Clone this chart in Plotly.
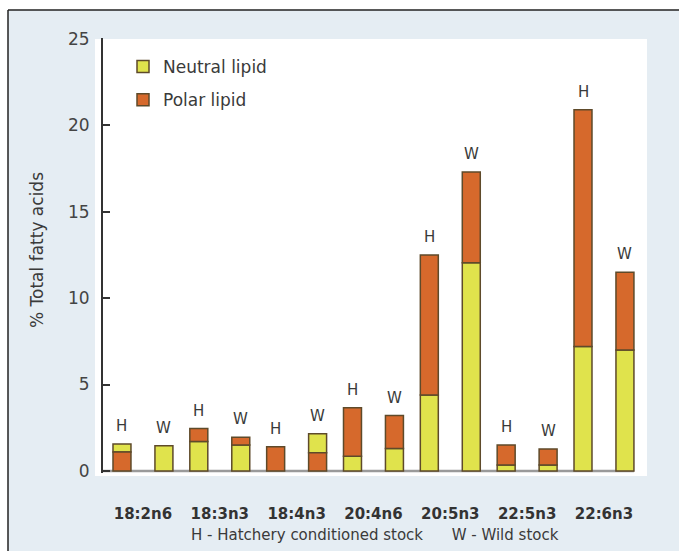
import plotly.graph_objects as go

# ---- data ----
categories = ["18:2n6", "18:3n3", "18:4n3", "20:4n6", "20:5n3", "22:5n3", "22:6n3"]
neutral_H = [0.46, 1.7, 0.0, 0.85, 4.4, 0.35, 7.2]
polar_H = [1.1, 0.75, 1.4, 2.8, 8.1, 1.15, 13.7]
neutral_W = [1.45, 1.5, 1.1, 1.3, 12.05, 0.35, 7.0]
polar_W = [0.0, 0.45, 1.05, 1.9, 5.25, 0.92, 4.5]
# True where the polar segment sits at the bottom of the stack
polar_bottom_H = [True, False, True, False, False, False, False]
polar_bottom_W = [False, False, True, False, False, False, False]
stock_labels = ["H", "W"]
y_ticks = [0, 5, 10, 15, 20, 25]

# ---- styling ----
YELLOW = "#e0e34c"
ORANGE = "#d6692c"
OUTLINE = "#5e4a2a"
BG = "#e5edf3"
TXT = "#3a3a3a"
FONT = "DejaVu Sans"

W_PX, H_PX = 679, 551
L, R, T, B = 103, 32, 38, 78
pw, ph = W_PX - L - R, H_PX - T - B

def px_x(p):
    return (p - L) / pw

def px_y(p):
    return (H_PX - B - p) / ph

off = 0.273
bw = 0.234
xs, neu, pol, pbot, labs = [], [], [], [], []
for i in range(len(categories)):
    for s, nv, pv, pb in ((0, neutral_H, polar_H, polar_bottom_H), (1, neutral_W, polar_W, polar_bottom_W)):
        xs.append(i - off if s == 0 else i + off)
        neu.append(nv[i])
        pol.append(pv[i])
        pbot.append(pb[i])
        labs.append(stock_labels[s])

neu_y = [v if v > 0 else None for v in neu]
pol_y = [v if v > 0 else None for v in pol]
neu_base = [p if b else 0 for p, b in zip(pol, pbot)]
pol_base = [0 if b else n for n, b in zip(neu, pbot)]
totals = [n + p for n, p in zip(neu, pol)]

fig = go.Figure()
fig.add_trace(go.Bar(x=xs, y=neu_y, base=neu_base, width=bw, name="Neutral lipid",
                     legendgroup="n",
                     marker=dict(color=YELLOW, line=dict(color=OUTLINE, width=1.5))))
fig.add_trace(go.Bar(x=xs, y=pol_y, base=pol_base, width=bw, name="Polar lipid",
                     legendgroup="p",
                     marker=dict(color=ORANGE, line=dict(color=OUTLINE, width=1.5))))

annotations = []
for x, t, lab in zip(xs, totals, labs):
    annotations.append(dict(x=x, y=t, xref="x", yref="y", text=lab, showarrow=False,
                            yanchor="bottom", yshift=7,
                            font=dict(family=FONT, size=15, color=TXT)))
annotations.append(dict(x=px_x(37), y=px_y(250), xref="paper", yref="paper",
                        xanchor="center", yanchor="middle",
                        text="% Total fatty acids", textangle=-90, showarrow=False,
                        font=dict(family=FONT, size=17, color=TXT)))
annotations.append(dict(x=px_x(375), y=px_y(535), xref="paper", yref="paper",
                        xanchor="center", yanchor="middle",
                        text="H - Hatchery conditioned stock" + "\u00a0" * 6 + "W - Wild stock",
                        showarrow=False, font=dict(family=FONT, size=15, color=TXT)))

shapes = [
    dict(type="rect", xref="paper", yref="paper", x0=px_x(8), x1=px_x(W_PX), y0=px_y(H_PX), y1=px_y(10),
         fillcolor=BG, line=dict(width=0), layer="below"),
    dict(type="rect", xref="paper", yref="paper", x0=px_x(95), x1=px_x(647), y0=px_y(476), y1=px_y(39),
         fillcolor="white", line=dict(width=0), layer="below"),
    dict(type="line", xref="paper", yref="paper", x0=px_x(8), x1=px_x(8), y0=px_y(H_PX), y1=px_y(10),
         line=dict(color="#222", width=1.5)),
    dict(type="line", xref="paper", yref="paper", x0=px_x(8), x1=px_x(W_PX), y0=px_y(10), y1=px_y(10),
         line=dict(color="#222", width=1.5)),
    dict(type="line", xref="x", yref="y", x0=-0.52, x1=xs[-1] + bw / 2, y0=0, y1=0,
         line=dict(color="#9a9a9a", width=2.5), layer="below"),
]

fig.update_layout(
    width=W_PX, height=H_PX,
    margin=dict(l=L, r=R, t=T, b=B, pad=0),
    paper_bgcolor="white", plot_bgcolor="white",
    barmode="overlay",
    font=dict(family=FONT, color=TXT),
    showlegend=True,
    legend=dict(x=px_x(123), y=px_y(49), xanchor="left", yanchor="top",
                bgcolor="rgba(0,0,0,0)", font=dict(family=FONT, size=17, color=TXT),
                traceorder="grouped", tracegroupgap=8),
    annotations=annotations,
    shapes=shapes,
    xaxis=dict(range=[-0.52, 6.56], tickvals=list(range(len(categories))), ticktext=categories,
               showgrid=False, zeroline=False, showline=False, ticks="",
               tickfont=dict(family=FONT, size=15, color="#333", weight="bold"),
               ticklabelstandoff=30, fixedrange=True),
    yaxis=dict(range=[-0.12, 25.05], tickvals=y_ticks, showgrid=False, zeroline=False,
               showline=True, linecolor="#333", linewidth=2, ticks="inside", ticklen=7,
               tickwidth=2, tickcolor="#333",
               tickfont=dict(family=FONT, size=17, color="#444"),
               ticklabelstandoff=8, fixedrange=True),
)

fig.write_html("out.html", config={"displayModeBar": False},
               post_script="document.body.style.margin='0';document.body.style.overflow='hidden';")
